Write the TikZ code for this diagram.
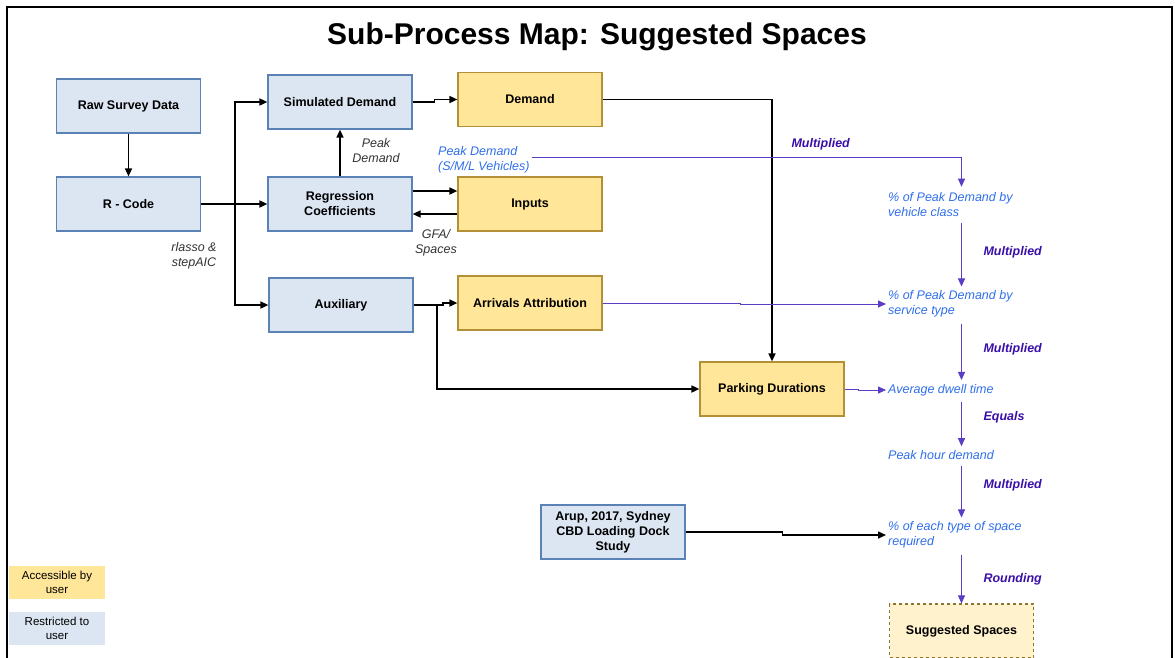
\documentclass[tikz,border=0pt]{standalone}
\usepackage{fontspec}
\setmainfont{Liberation Sans}
\usetikzlibrary{arrows.meta}
\definecolor{fillblue}{HTML}{DCE6F2}
\definecolor{edgeblue}{HTML}{5A82B4}
\definecolor{fillyellow}{HTML}{FFE699}
\definecolor{edgegold}{HTML}{B39036}
\definecolor{filllight}{HTML}{FFF2CC}
\definecolor{edgebrown}{HTML}{8B7530}
\definecolor{textblue}{HTML}{2F6FEB}
\definecolor{labelpurple}{HTML}{3A10A8}
\definecolor{linepurple}{HTML}{5B3CC4}
\begin{document}
\begin{tikzpicture}[x=1pt,y=-1pt,
  box/.style={minimum width=144pt,minimum height=54pt,line width=1.2pt,align=center,
    font=\bfseries\fontsize{12.5}{15}\selectfont},
  bluebox/.style={box,draw=edgeblue,fill=fillblue},
  yellowbox/.style={box,draw=edgegold,fill=fillyellow},
  suggbox/.style={box,draw=edgebrown,fill=filllight,dashed},
  legendbox/.style={minimum width=96pt,minimum height=33pt,align=center,inner sep=1pt,
    font=\fontsize{11.5}{14.5}\selectfont},
  conn/.style={line width=1.6pt,-{Triangle[length=8pt,width=7pt]}},
  pconn/.style={draw=linepurple,line width=0.8pt,-{Triangle[length=8pt,width=7pt]},color=linepurple},
  note/.style={font=\itshape\fontsize{12.5}{15}\selectfont,text=black!80,align=center},
  bluetext/.style={font=\itshape\fontsize{12.5}{15}\selectfont,text=textblue,align=left,inner sep=2pt},
  oplabel/.style={font=\bfseries\itshape\fontsize{12.5}{14}\selectfont,text=labelpurple,anchor=west}
]
\useasboundingbox (0,0) rectangle (1175,657);
\clip (0,0) rectangle (1175,657);
\fill[white] (0,0) rectangle (1175,657);
% frame
\draw[line width=2pt] (7,700) -- (7,7) -- (1172,7) -- (1172,700);
% title
\node[font=\bfseries\fontsize{30}{34}\selectfont] (title) at (597,37) {Sub-Process Map: Suggested Spaces};
% boxes
\node[bluebox] (raw) at (128.5,106) {Raw Survey Data};
\node[bluebox] (rcode) at (128.5,204) {R - Code};
\node[bluebox] (sim) at (340,102) {Simulated Demand};
\node[bluebox] (reg) at (340,204) {Regression\\Coefficients};
\node[bluebox] (aux) at (341,305) {Auxiliary};
\node[yellowbox] (demand) at (530,99.5) {Demand};
\node[yellowbox] (inputs) at (530,204) {Inputs};
\node[yellowbox] (arr) at (530,303) {Arrivals Attribution};
\node[yellowbox] (park) at (772,389) {Parking Durations};
\node[bluebox] (arup) at (613,532) {Arup, 2017, Sydney\\CBD Loading Dock\\Study};
\node[suggbox] (sugg) at (961.5,631) {Suggested Spaces};
% legend
\node[legendbox,fill=fillyellow] (leg1) at (57,582.5) {Accessible by\\user};
\node[legendbox,fill=fillblue] (leg2) at (57,628.5) {Restricted to\\user};
% notes
\node[note] (n1) at (194,256) {rlasso \&\\stepAIC};
\node[note] (n2) at (376,151) {Peak\\Demand};
\node[note] (n3) at (436,243) {GFA/\\Spaces};
% blue texts
\node[bluetext,anchor=west] (pd) at (436,160) {Peak Demand\\(S/M/L Vehicles)};
\node[bluetext,anchor=west] (t1) at (886,205) {\% of Peak Demand by\\vehicle class};
\node[bluetext,anchor=west] (t2) at (886,304) {\% of Peak Demand by\\service type};
\node[bluetext,anchor=west] (t3) at (886,390) {Average dwell time};
\node[bluetext,anchor=west] (t4) at (886,455) {Peak hour demand};
\node[bluetext,anchor=west] (t5) at (886,535) {\% of each type of space\\required};
\coordinate (cx) at (961.5,0);
% operation labels
\node[oplabel] (o1) at (788,144) {Multiplied};
\node[oplabel] (o2) at (980,252) {Multiplied};
\node[oplabel] (o3) at (980,349) {Multiplied};
\node[oplabel] (o4) at (980,417) {Equals};
\node[oplabel] (o5) at (980,485) {Multiplied};
\node[oplabel] (o6) at (980,579) {Rounding};
% black connectors
\draw[conn] (raw.south) -- (rcode.north);
\draw[conn] (rcode.east) -- (reg.west);
\coordinate (br) at (235,204);
\draw[conn] (br) |- (sim.west);
\draw[conn] (br) |- (aux.west);
\draw[conn] (reg.north) -- (sim.south);
\draw[conn] (sim.east) -- ++(22,0) |- (demand.west);
\draw[conn] ([yshift=13pt]reg.east) -- ([yshift=13pt]inputs.west);
\draw[conn] ([yshift=-10pt]inputs.west) -- ([yshift=-10pt]reg.east);
\coordinate (ab) at (437,305);
\draw[conn] (aux.east) -- (ab) -- ++(6,0) |- (arr.west);
\draw[conn] (ab) |- (park.west);
\draw[conn] (demand.east) -| (park.north);
\draw[conn] (arup.east) -- ++(97,0) |- (t5.west);
% purple connectors
\draw[pconn] ([yshift=3pt]pd.east) -| ([yshift=4pt]t1.north -| cx);
\draw[pconn] (arr.east) -- ++(138,0) |- (t2.west);
\draw[pconn] (park.east) -- ++(14,0) |- (t3.west);
\draw[pconn] ([yshift=-4pt]t1.south -| cx) -- ([yshift=2pt]t2.north -| cx);
\draw[pconn] ([yshift=-4pt]t2.south -| cx) -- ([yshift=2pt]t3.north -| cx);
\draw[pconn] ([yshift=-4pt]t3.south -| cx) -- ([yshift=2pt]t4.north -| cx);
\draw[pconn] ([yshift=-4pt]t4.south -| cx) -- ([yshift=2pt]t5.north -| cx);
\draw[pconn] ([yshift=-4pt]t5.south -| cx) -- (sugg.north);
\end{tikzpicture}
\end{document}
